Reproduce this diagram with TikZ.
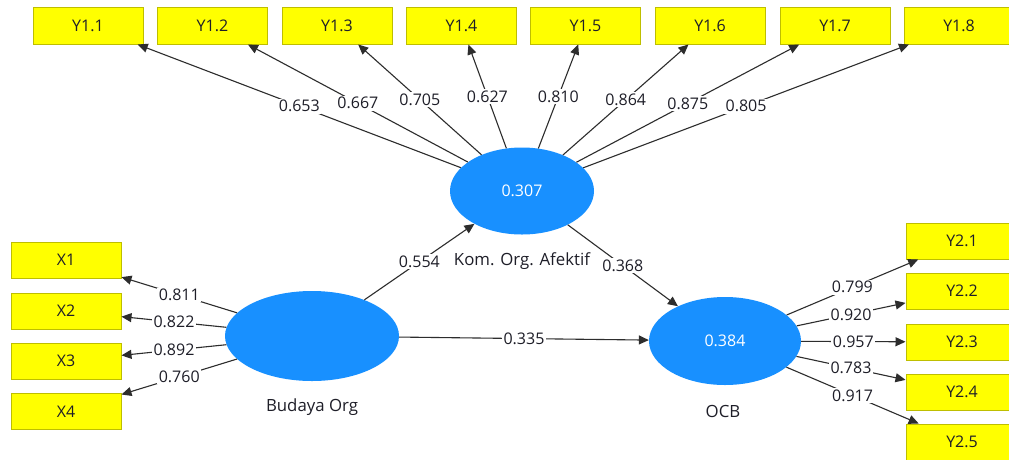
\documentclass[tikz,border=0pt]{standalone}
\usepackage{fontspec}
\setmainfont{Open Sans}
\usetikzlibrary{shapes.geometric,arrows.meta}
\definecolor{boxfill}{RGB}{255,255,0}
\definecolor{boxline}{RGB}{190,190,0}
\definecolor{latent}{RGB}{24,144,255}
\definecolor{edgecol}{RGB}{45,45,45}
\definecolor{txt}{RGB}{30,30,40}
\begin{document}
\begin{tikzpicture}[x=1pt,y=-1pt,
  ind/.style={draw=boxline, fill=boxfill, line width=1pt, minimum width=110pt, minimum height=37pt, inner sep=0pt, font=\fontsize{16}{19}\selectfont, text=txt},
  indr/.style={ind, minimum width=112pt, minimum height=36pt},
  indx/.style={ind, minimum height=36pt},
  lat/.style={ellipse, fill=latent, inner sep=0pt, text=white, font=\fontsize{16}{19}\selectfont},
  arr/.style={draw=edgecol, line width=1.1pt, -{Triangle[length=10pt,width=9pt]}},
  lbl/.style={fill=white, inner sep=1.5pt, font=\fontsize{16}{19}\selectfont, text=txt},
  captxt/.style={font=\fontsize{16.8}{20}\selectfont, text=txt}]
\useasboundingbox (0,0) rectangle (1009,459);
\clip (0,0) rectangle (1009,459);
\fill[white] (0,0) rectangle (1009,459);

% latent variables
\node[lat, minimum width=144pt, minimum height=87pt] (kom) at (522,191) {0.307};
\node[lat, minimum width=174pt, minimum height=90pt] (bud) at (312,336) {};
\node[lat, minimum width=152pt, minimum height=88pt] (ocb) at (725,341) {0.384};
\node[captxt] (komcap) at (522,261) {Kom. Org. Afektif};
\node[captxt] (budcap) at (312,407) {Budaya Org};
\node[captxt] (ocbcap) at (723,411) {OCB};

% indicators of Kom. Org. Afektif
\node[ind] (y11) at (88,25.5) {Y1.1};
\node[ind] (y12) at (212.5,25.5) {Y1.2};
\node[ind] (y13) at (337,25.5) {Y1.3};
\node[ind] (y14) at (461.5,25.5) {Y1.4};
\node[ind] (y15) at (585.5,25.5) {Y1.5};
\node[ind] (y16) at (710,25.5) {Y1.6};
\node[ind] (y17) at (835,25.5) {Y1.7};
\node[ind] (y18) at (959,25.5) {Y1.8};

% indicators of Budaya Org
\node[indx] (x1) at (66,260) {X1};
\node[indx] (x2) at (66,311) {X2};
\node[indx] (x3) at (66,361) {X3};
\node[indx] (x4) at (66,411.5) {X4};

% indicators of OCB
\node[indr] (y21) at (962,241) {Y2.1};
\node[indr] (y22) at (962,291) {Y2.2};
\node[indr] (y23) at (962,342) {Y2.3};
\node[indr] (y24) at (962,392) {Y2.4};
\node[indr] (y25) at (962,442) {Y2.5};

% loadings
\draw[arr] (kom) -- node[lbl] {0.653} (y11);
\draw[arr] (kom) -- node[lbl] {0.667} (y12);
\draw[arr] (kom) -- node[lbl] {0.705} (y13);
\draw[arr] (kom) -- node[lbl] {0.627} (y14);
\draw[arr] (kom) -- node[lbl] {0.810} (y15);
\draw[arr] (kom) -- node[lbl] {0.864} (y16);
\draw[arr] (kom) -- node[lbl] {0.875} (y17);
\draw[arr] (kom) -- node[lbl] {0.805} (y18);

\draw[arr] (bud) -- node[lbl] {0.811} (x1);
\draw[arr] (bud) -- node[lbl] {0.822} (x2);
\draw[arr] (bud) -- node[lbl] {0.892} (x3);
\draw[arr] (bud) -- node[lbl] {0.760} (x4);

\draw[arr] (ocb) -- node[lbl] {0.799} (y21);
\draw[arr] (ocb) -- node[lbl] {0.920} (y22);
\draw[arr] (ocb) -- node[lbl] {0.957} (y23);
\draw[arr] (ocb) -- node[lbl] {0.783} (y24);
\draw[arr] (ocb) -- node[lbl] {0.917} (y25);

% structural paths
\draw[arr] (bud) -- node[lbl] {0.554} (kom);
\draw[arr] (kom) -- node[lbl] {0.368} (ocb);
\draw[arr] (bud) -- node[lbl] {0.335} (ocb);
\end{tikzpicture}
\end{document}
